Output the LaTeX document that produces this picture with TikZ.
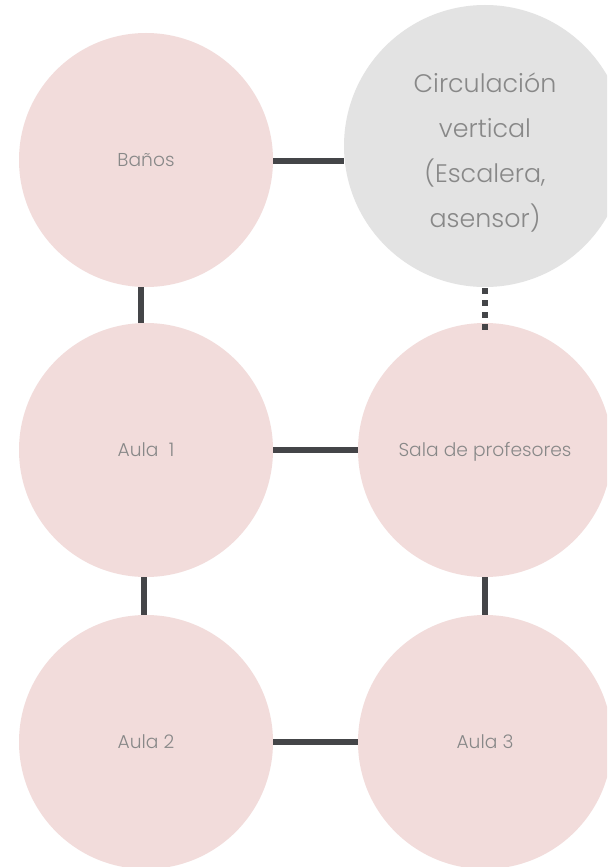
\documentclass[tikz,border=0pt]{standalone}
\usepackage{fontspec}
\setmainfont{Poppins}[UprightFont=* Light]
\definecolor{rosa}{RGB}{242,220,219}
\definecolor{gris}{RGB}{227,227,227}
\definecolor{texto}{RGB}{136,136,136}
\definecolor{linea}{RGB}{68,69,72}
\begin{document}
\begin{tikzpicture}[x=0.75pt,y=-0.75pt,
  sala/.style={circle,fill=rosa,draw=none,minimum size=190.5pt,inner sep=0pt,
    text=texto,font=\fontsize{14}{17}\selectfont,text height=11.8pt,text depth=2pt},
  vert/.style={circle,fill=gris,draw=none,minimum size=211.5pt,inner sep=0pt,
    text=texto,font=\fontsize{19}{33.6}\selectfont},
  conn/.style={draw=linea,line width=4.5pt},
  punteado/.style={conn,dash pattern=on 4.5pt off 4.5pt}]
\clip (0,0) rectangle (607,867);
\fill[white] (0,0) rectangle (607,867);
\node[sala] (banos) at (146,160) {Baños};
\node[vert] (circ) at (485,146) {\raisebox{-3.75pt}[\height][\depth]{\begin{tabular}{@{}c@{}}Circulación\\vertical\\(Escalera,\\asensor)\end{tabular}}};
\node[sala] (aula1) at (146,450) {Aula\ \ 1};
\node[sala] (prof) at (485,450) {Sala de profesores};
\node[sala] (aula2) at (146,742) {Aula 2};
\node[sala] (aula3) at (485,742) {Aula 3};
\draw[conn] ([yshift=-0.75pt]banos.east) -- ([yshift=-0.75pt]banos.east -| circ.west);
\draw[conn] ([xshift=-4pt]banos.south) -- ([xshift=-4pt]aula1.north);
\draw[punteado] ([yshift=-0.75pt]circ.south) -- ([yshift=-5.25pt]prof.north);
\draw[conn] (aula1.east) -- (prof.west);
\draw[conn] ([xshift=-1.7pt]aula1.south) -- ([xshift=-1.7pt]aula2.north);
\draw[conn] (prof.south) -- (aula3.north);
\draw[conn] (aula2.east) -- (aula3.west);
\end{tikzpicture}
\end{document}
